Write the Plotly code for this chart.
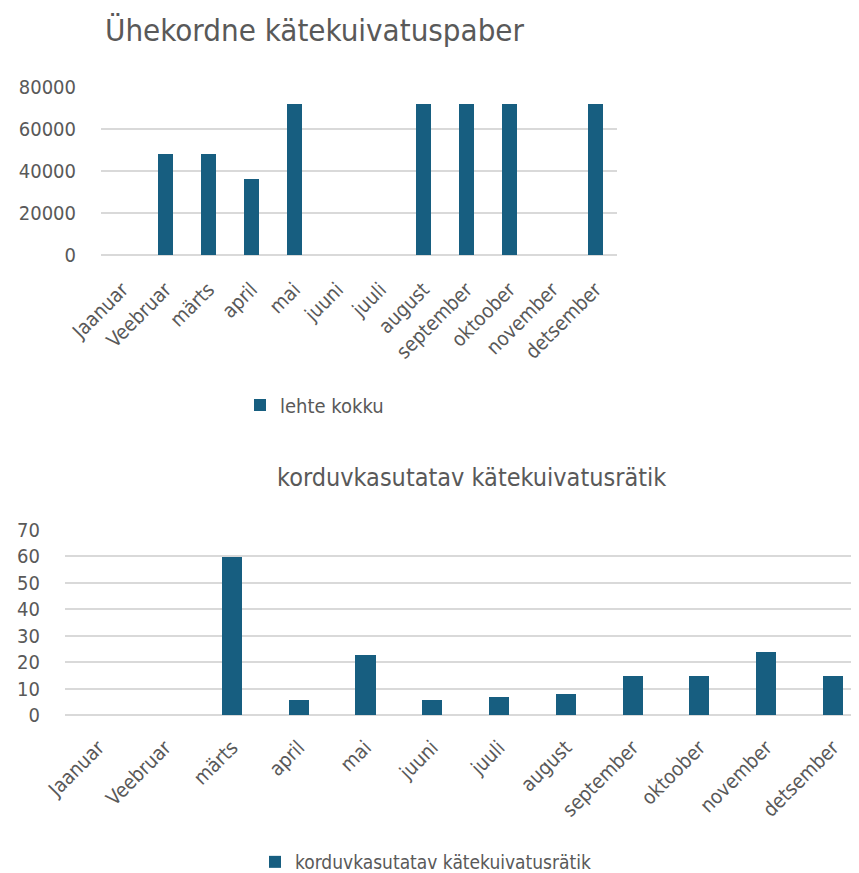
import plotly.graph_objects as go

months = ["Jaanuar", "Veebruar", "märts", "april", "mai", "juuni", "juuli",
          "august", "september", "oktoober", "november", "detsember"]
paper_values = [0, 48000, 48000, 36000, 72000, 0, 0, 72000, 72000, 72000, 0, 72000]
towel_values = [0, 0, 60, 6, 23, 6, 7, 8, 15, 15, 24, 15]
top_title = "Ühekordne kätekuivatuspaber"
bottom_title = "korduvkasutatav kätekuivatusrätik"
top_series = "lehte kokku"
bottom_series = "korduvkasutatav kätekuivatusrätik"
top_yticks = [0, 20000, 40000, 60000, 80000]
bottom_yticks = [0, 10, 20, 30, 40, 50, 60, 70]

# page body has an 8px margin, so figure coords = screen coords - 8
OFF = 8
W, H = 859 - OFF, 873 - OFF
FONT = "DejaVu Sans Condensed"
GRAY = "#595959"
GRID = "#D9D9D9"
BAR = "#175E80"

def px(x):
    return (x - OFF) / W

def py(y):
    return 1 - (y - OFF) / H

fig = go.Figure()
fig.add_trace(go.Bar(x=months, y=paper_values, name=top_series, marker_color=BAR,
                     width=0.33, xaxis="x", yaxis="y", legend="legend",
                     marker_line_width=0))
fig.add_trace(go.Bar(x=months, y=towel_values, name=bottom_series, marker_color=BAR,
                     width=0.3, xaxis="x2", yaxis="y2", legend="legend2",
                     marker_line_width=0))

xaxis_common = dict(showline=False, ticks="", automargin=False, tickangle=-45,
                    showgrid=False,
                    tickfont=dict(family=FONT, size=20, color=GRAY))
yaxis_common = dict(showgrid=True, gridcolor=GRID, gridwidth=1.5,
                    zeroline=True, zerolinecolor=GRID, zerolinewidth=1.5,
                    ticklabelstandoff=24, automargin=False,
                    showline=False, ticks="", tickfont=dict(family=FONT, size=20, color=GRAY))

fig.update_layout(
    width=W, height=H,
    margin=dict(l=0, r=0, t=0, b=0, autoexpand=False),
    paper_bgcolor="white", plot_bgcolor="white",
    font=dict(family=FONT, color=GRAY),
    bargap=0,
    xaxis=dict(domain=[px(101), px(617)], anchor="y", range=[-0.5, 11.5],
               ticklabelstandoff=18, **xaxis_common),
    yaxis=dict(domain=[py(255), py(87)], anchor="x", range=[0, 80000],
               tickvals=top_yticks, tickformat="d", **yaxis_common),
    xaxis2=dict(domain=[px(65), 1], anchor="y2", range=[-0.5, 11.39],
                ticklabelstandoff=16, **xaxis_common),
    yaxis2=dict(domain=[py(715), py(529.5)], anchor="x2", range=[0, 70],
                tickvals=bottom_yticks, **yaxis_common),
    legend=dict(x=px(240), y=py(405), xanchor="left", yanchor="middle",
                orientation="h", font=dict(family=FONT, size=20, color=GRAY),
                itemwidth=30),
    legend2=dict(x=px(255), y=py(862), xanchor="left", yanchor="middle",
                 orientation="h", font=dict(family=FONT, size=19, color=GRAY),
                 itemwidth=30),
    annotations=[
        dict(text=top_title, x=px(103), y=py(30), xref="paper", yref="paper",
             xanchor="left", yanchor="middle", showarrow=False,
             font=dict(family=FONT, size=31, color=GRAY)),
        dict(text=bottom_title, x=px(472), y=py(478), xref="paper", yref="paper",
             xanchor="center", yanchor="middle", showarrow=False,
             font=dict(family=FONT, size=25, color=GRAY)),
    ],
    showlegend=True,
)

fig.write_html("out.html")
